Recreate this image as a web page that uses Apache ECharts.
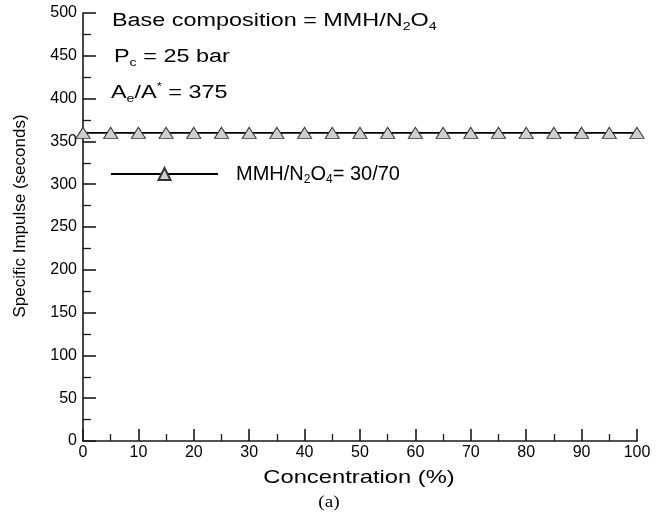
<!DOCTYPE html>
<html>
<head>
<meta charset="utf-8">
<script src="https://cdn.jsdelivr.net/npm/echarts@6/dist/echarts.min.js"></script>
<style>
  html, body { margin: 0; padding: 0; background: #fff; }
  #chart { width: 664px; height: 514px; }
</style>
</head>
<body>
<div id="chart"></div>
<script>
// Concentration of additive (%) and resulting specific impulse (s)
var concentration = [0, 5, 10, 15, 20, 25, 30, 35, 40, 45, 50, 55, 60, 65, 70, 75, 80, 85, 90, 95, 100];
var specificImpulse = [360, 360, 360, 360, 360, 360, 360, 360, 360, 360, 360, 360, 360, 360, 360, 360, 360, 360, 360, 360, 360];
var seriesName = 'MMH/N2O4= 30/70';

var FONT = '"Liberation Sans", Arial, Helvetica, sans-serif';
var SERIF = '"Liberation Serif", "Times New Roman", serif';
var WIDE = 1.3; // horizontal stretch of the annotation lettering

var points = concentration.map(function (c, i) { return [c, specificImpulse[i]]; });

// rich styles for sub/superscripts
function richStyles(size) {
  return {
    n: { fontFamily: FONT, fontSize: size, color: '#000' },
    sub: { fontFamily: FONT, fontSize: Math.round(size * 0.6), color: '#000', padding: [Math.round(size * 0.6), 0, 0, 0] },
    sup: { fontFamily: FONT, fontSize: Math.round(size * 0.55), color: '#000', padding: [0, 0, Math.round(size * 0.6), 0] }
  };
}

var axisLineStyle = { color: '#1a1a1a', width: 1.6 };

var option = {
  backgroundColor: '#fff',
  animation: false,
  grid: { left: 83, right: 27, top: 13, bottom: 73, containLabel: false },
  xAxis: {
    type: 'value',
    min: 0, max: 100, interval: 10,
    axisLine: { show: true, lineStyle: axisLineStyle },
    axisTick: { show: true, inside: true, length: 12, lineStyle: axisLineStyle },
    minorTick: { show: true, splitNumber: 2, length: 7, lineStyle: { color: '#1a1a1a', width: 1.3 } },
    splitLine: { show: false },
    axisLabel: { fontFamily: FONT, fontSize: 16, color: '#000', margin: 4 }
  },
  yAxis: {
    type: 'value',
    min: 0, max: 500, interval: 50,
    name: 'Specific Impulse (seconds)',
    nameLocation: 'middle',
    nameGap: 54,
    nameTextStyle: { fontFamily: FONT, fontSize: 17, color: '#000', padding: [0, 0, 0, 22] },
    axisLine: { show: true, lineStyle: axisLineStyle },
    axisTick: { show: true, inside: true, length: 13, lineStyle: axisLineStyle },
    minorTick: { show: true, splitNumber: 2, length: 8, lineStyle: { color: '#1a1a1a', width: 1.3 } },
    splitLine: { show: false },
    axisLabel: { fontFamily: FONT, fontSize: 16, color: '#000', margin: 6 }
  },
  legend: {
    left: 110, top: 164, padding: 0,
    itemWidth: 107, itemHeight: 15,
    data: [seriesName],
    formatter: function () {
      return '{n|MMH/N}{sub|2}{n|O}{sub|4}{n|= 30/70}';
    },
    textStyle: { rich: richStyles(20), padding: [0, 0, 0, 13] }
  },
  series: [{
    name: seriesName,
    type: 'line',
    data: points,
    symbol: 'triangle',
    symbolSize: [14, 11],
    showAllSymbol: true,
    lineStyle: { color: '#000', width: 1.8 },
    itemStyle: { color: '#cfcfcf', borderColor: '#333', borderWidth: 1 }
  }],
  graphic: [
    {
      type: 'text', x: 112, y: 21, scaleX: WIDE,
      style: { text: '{n|Base composition = MMH/N}{sub|2}{n|O}{sub|4}', rich: richStyles(18), align: 'left', verticalAlign: 'middle' }
    },
    {
      type: 'text', x: 114, y: 57, scaleX: WIDE,
      style: { text: '{n|P}{sub|c}{n| = 25 bar}', rich: richStyles(18), align: 'left', verticalAlign: 'middle' }
    },
    {
      type: 'text', x: 111, y: 93, scaleX: WIDE,
      style: { text: '{n|A}{sub|e}{n|/A}{sup|*}{n| = 375}', rich: richStyles(18), align: 'left', verticalAlign: 'middle' }
    },
    {
      type: 'text', x: 359, y: 478, scaleX: 1.25,
      style: { text: 'Concentration (%)', font: '19px ' + FONT, fill: '#000', align: 'center', verticalAlign: 'middle' }
    },
    {
      type: 'text', x: 329, y: 503, scaleX: 1.2,
      style: { text: '(a)', font: '16px ' + SERIF, fill: '#000', align: 'center', verticalAlign: 'middle' }
    }
  ]
};

var chart = echarts.init(document.getElementById('chart'), null, { renderer: 'canvas' });
chart.setOption(option);
</script>
</body>
</html>
